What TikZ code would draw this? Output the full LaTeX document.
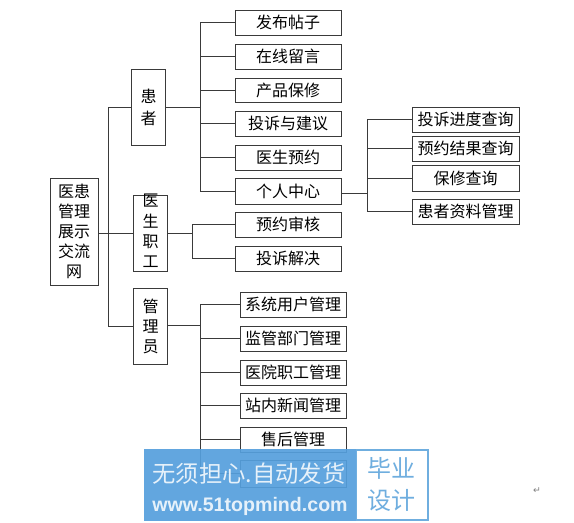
\documentclass[tikz,border=0pt]{standalone}
\usepackage{fontspec}
\setmainfont{Noto Sans CJK SC}
\newfontfamily\latinwm{Liberation Sans}
\newfontfamily\symfont{DejaVu Sans}
\definecolor{wmblue}{HTML}{559FDD}
\definecolor{wmtext}{HTML}{E6F1FA}
\definecolor{wmlight}{HTML}{6FAEDF}
\definecolor{boxline}{HTML}{3A3A3A}
\tikzset{
  x=0.75pt,y=-0.75pt,
  box/.style={draw=boxline,line width=0.75pt,fill=white,inner sep=0pt,align=center,font=\fontsize{12}{12}\selectfont},
  conn/.style={draw=boxline,line width=0.6pt},
}
\newcommand{\pbox}[6]{% name x1 y1 x2 y2 text
  \node[box,minimum width=(#4-#2)*0.75pt,minimum height=(#5-#3)*0.75pt] (#1) at ({(#2+#4)/2},{(#3+#5)/2}) {#6};}
\begin{document}
\begin{tikzpicture}
\useasboundingbox (0,0) rectangle (574,522);
\fill[white] (0,0) rectangle (574,522);
% root and level one
\node[box,minimum width=36pt,minimum height=80.25pt,font=\fontsize{12}{15}\selectfont] (root) at (74,231.5) {医患\\管理\\展示\\交流\\网};
\node[box,minimum width=25.5pt,minimum height=57pt,font=\fontsize{12}{16.5}\selectfont] (pat) at (148.5,107) {患\\者};
\node[box,minimum width=25.5pt,minimum height=57pt] (doc) at (150.5,233) {};
\node[inner sep=0pt,align=center,font=\fontsize{12}{15.2}\selectfont] (doct) at (150.5,231) {医\\生\\职\\工};
\node[box,minimum width=25.5pt,minimum height=57pt,font=\fontsize{12}{15}\selectfont] (adm) at (150.5,326) {管\\理\\员};
% level two
\pbox{a1}{235}{10}{341}{35}{发布帖子}
\pbox{a2}{235}{44}{341}{69}{在线留言}
\pbox{a3}{235}{78}{341}{102}{产品保修}
\pbox{a4}{235}{111}{341}{136}{投诉与建议}
\pbox{a5}{235}{145}{341}{170}{医生预约}
\pbox{a6}{235}{178}{341}{204}{个人中心}
\pbox{b1}{235}{212}{341}{237}{预约审核}
\pbox{b2}{235}{246}{341}{271}{投诉解决}
\pbox{c1}{240}{292}{346}{317}{系统用户管理}
\pbox{c2}{240}{326}{346}{351}{监管部门管理}
\pbox{c3}{240}{360}{346}{385}{医院职工管理}
\pbox{c4}{240}{393}{346}{418}{站内新闻管理}
\pbox{c5}{240}{427}{346}{452}{售后管理}
\pbox{c6}{240}{460}{346}{487}{}
% level three
\pbox{d1}{412}{107}{519}{132}{投诉进度查询}
\pbox{d2}{412}{136}{519}{161}{预约结果查询}
\pbox{d3}{412}{165}{519}{191}{保修查询}
\pbox{d4}{412}{199}{519}{224}{患者资料管理}
% buses
\coordinate (tr) at (108,233);
\coordinate (pb) at (200,107);
\coordinate (db) at (192.5,233);
\coordinate (ab) at (200.5,325);
\coordinate (ib) at (367,193);
% connectors
\draw[conn] (root.east |- tr) -- (doc.west |- tr);
\draw[conn] (pat.west) -| (tr);
\draw[conn] (adm.west) -| (tr);
\draw[conn] (pat.east) -- (pb);
\draw[conn] (a1.west) -| (pb);
\draw[conn] (a2.west) -| (pb);
\draw[conn] (a3.west) -| (pb);
\draw[conn] (a4.west) -| (pb);
\draw[conn] (a5.west) -| (pb);
\draw[conn] (a6.west |- 0,191) -| (pb);
\draw[conn] (doc.east |- db) -- (db);
\draw[conn] (b1.west) -| (db);
\draw[conn] (b2.west) -| (db);
\draw[conn] (adm.east |- ab) -- (ab);
\draw[conn] (c1.west) -| (ab);
\draw[conn] (c2.west) -| (ab);
\draw[conn] (c3.west) -| (ab);
\draw[conn] (c4.west) -| (ab);
\draw[conn] (c5.west) -| (ab);
\draw[conn] (c6.west) -| (ab);
\draw[conn] (a6.east |- ib) -- (ib);
\draw[conn] (d1.west) -| (ib);
\draw[conn] (d2.west) -| (ib);
\draw[conn] (d3.west) -| (ib);
\draw[conn] (d4.west) -| (ib);
% watermark
\fill[wmblue,opacity=0.92] (144,449) rectangle (356,521);
\fill[wmlight] (356,449) rectangle (429,521);
\fill[white] (357,451) rectangle (427,519);
\node[text=wmtext,font=\fontsize{17.5}{17.5}\selectfont] (wm1) at (249,474) {无须担心.自动发货};
\node[text=wmtext,font=\latinwm\bfseries\fontsize{14.7}{14.7}\selectfont] (wm2) at (250,506) {www.51topmind.com};
\node[text=wmlight,font=\fontsize{18}{24}\selectfont,align=center] (wm3) at (391,484) {毕业\\设计};
\node[text=gray,font=\symfont\fontsize{7}{7}\selectfont] (ret) at (537,491) {↵};
\end{tikzpicture}
\end{document}
